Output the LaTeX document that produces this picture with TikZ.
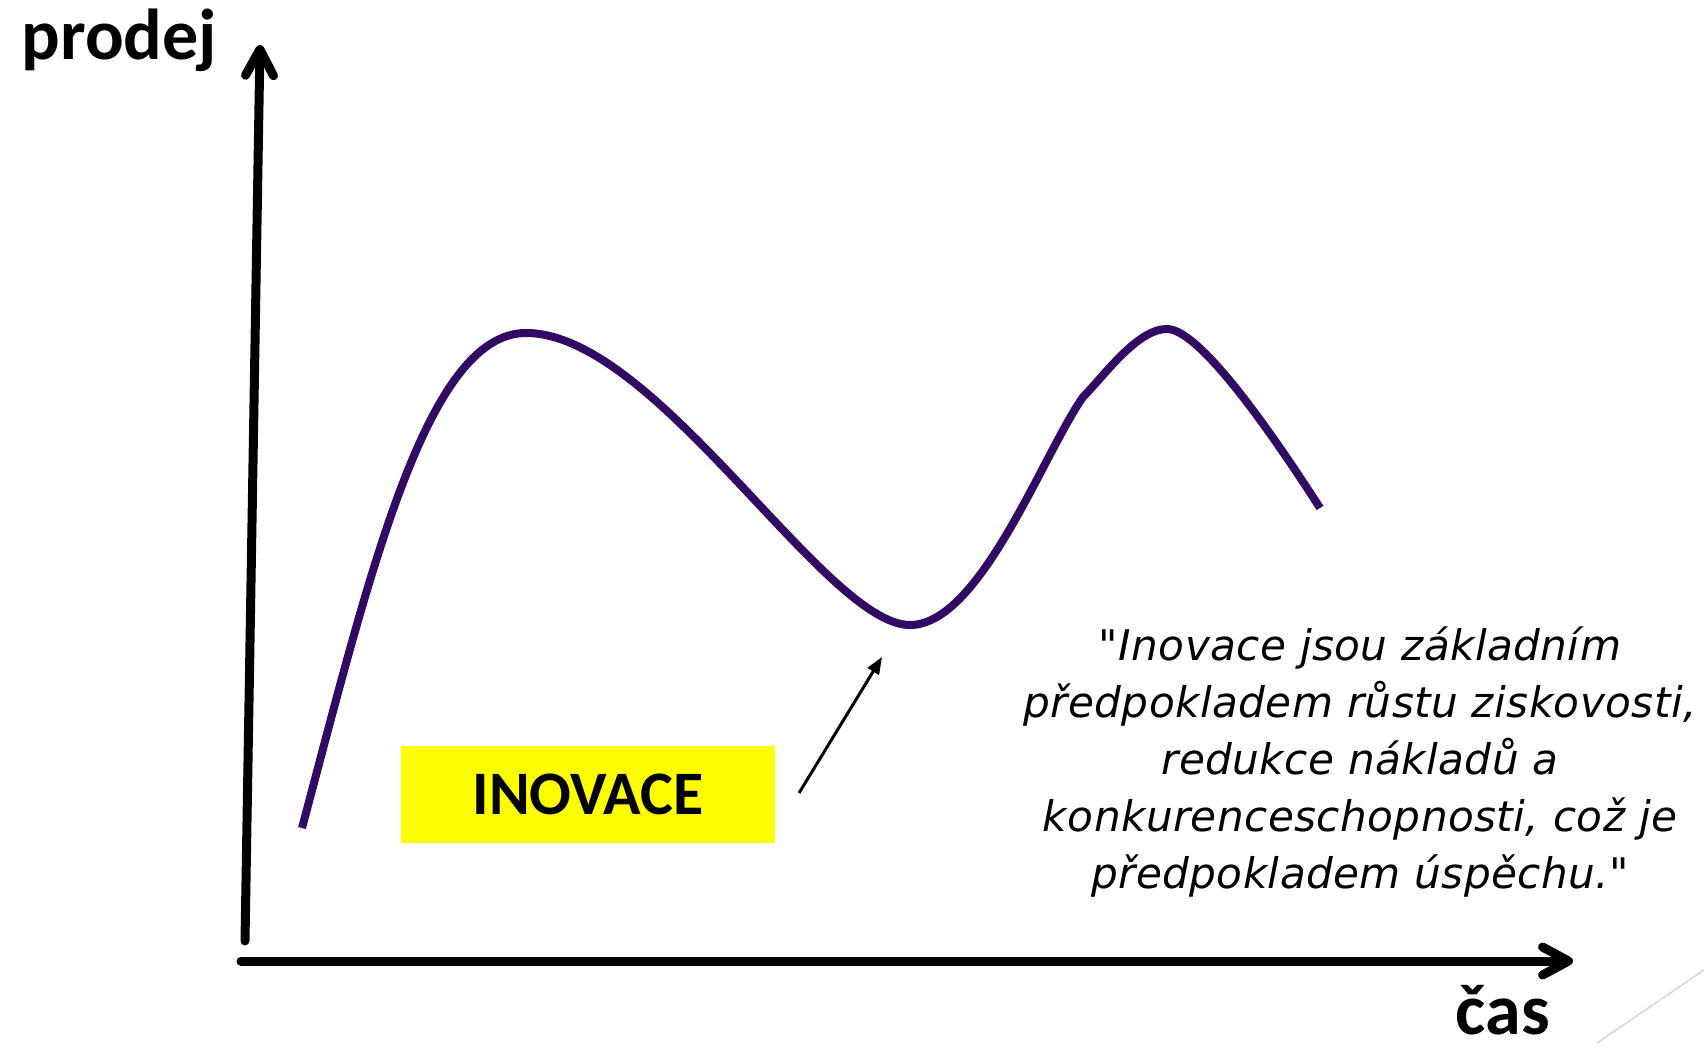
\documentclass[tikz,border=0pt]{standalone}
\usepackage{fontspec}
\setmainfont{Carlito}
\newfontfamily\citatfont[LetterSpace=1]{DejaVu Sans}
\usetikzlibrary{arrows.meta}
\definecolor{fialova}{RGB}{50,10,100}
\definecolor{zluta}{RGB}{255,255,0}
\definecolor{linka}{RGB}{215,215,215}

\begin{document}
\begin{tikzpicture}[
    osa/.style={line width=0.09cm, line cap=round, -{Straight Barb[length=0.26cm, width=0.28cm, round]}},
    krivka/.style={line width=0.08cm, fialova, line join=round},
    popisek/.style={font=\bfseries\fontsize{20.5pt}{24pt}\selectfont, inner sep=0},
    ramecek/.style={fill=zluta, minimum width=3.74cm, minimum height=0.97cm, inner sep=0,
        font=\bfseries\fontsize{17.6pt}{20pt}\selectfont},
    citat/.style={align=center, inner sep=0, font=\citatfont\itshape\fontsize{12pt}{16.2pt}\selectfont}
]
    \useasboundingbox (0,0) rectangle (17.04,10.45);

    % Osy
    \coordinate (y-dole) at (2.45,1.04);
    \coordinate (y-nahore) at (2.60,10.00);
    \coordinate (x-vlevo) at (2.41,0.84);
    \coordinate (x-vpravo) at (15.73,0.84);
    \draw[osa] (y-dole) -- (y-nahore);
    \draw[osa] (x-vlevo) -- (x-vpravo);
    \node[popisek, anchor=base west] (prodej) at (0.21,9.85) {prodej};
    \node[popisek, anchor=base west] (cas) at (14.55,0.11) {čas};

    % Krivka prodeje
    \draw[krivka] (3.02,2.17) .. controls (3.69,4.68) and (4.26,7.12) .. (5.26,7.12)
        .. controls (6.56,7.12) and (8.25,4.20) .. (9.10,4.20)
        .. controls (9.80,4.20) and (10.43,5.91) .. (10.83,6.48)
        .. controls (11.04,6.69) and (11.37,7.16) .. (11.67,7.16)
        .. controls (12.02,7.16) and (12.82,5.96) .. (13.20,5.37);

    % Inovace
    \node[ramecek] (inovace) at (5.88,2.505) {INOVACE};
    \coordinate (sipka-od) at (7.99,2.52);
    \coordinate (sipka-do) at (8.82,3.88);
    \draw[line width=0.03cm, -{Triangle[length=0.17cm, width=0.13cm]}] (sipka-od) -- (sipka-do);

    % Citat
    \node[citat, anchor=base] (citat) at (13.60,1.57) {"Inovace jsou základním\\
        předpokladem růstu ziskovosti,\\
        redukce nákladů a\\
        konkurenceschopnosti, což je\\
        předpokladem úspěchu."};

    % Linka v rohu
    \coordinate (roh-a) at (15.97,0.02);
    \coordinate (roh-b) at (17.04,0.75);
    \draw[linka, line width=0.015cm] (roh-a) -- (roh-b);
\end{tikzpicture}
\end{document}
